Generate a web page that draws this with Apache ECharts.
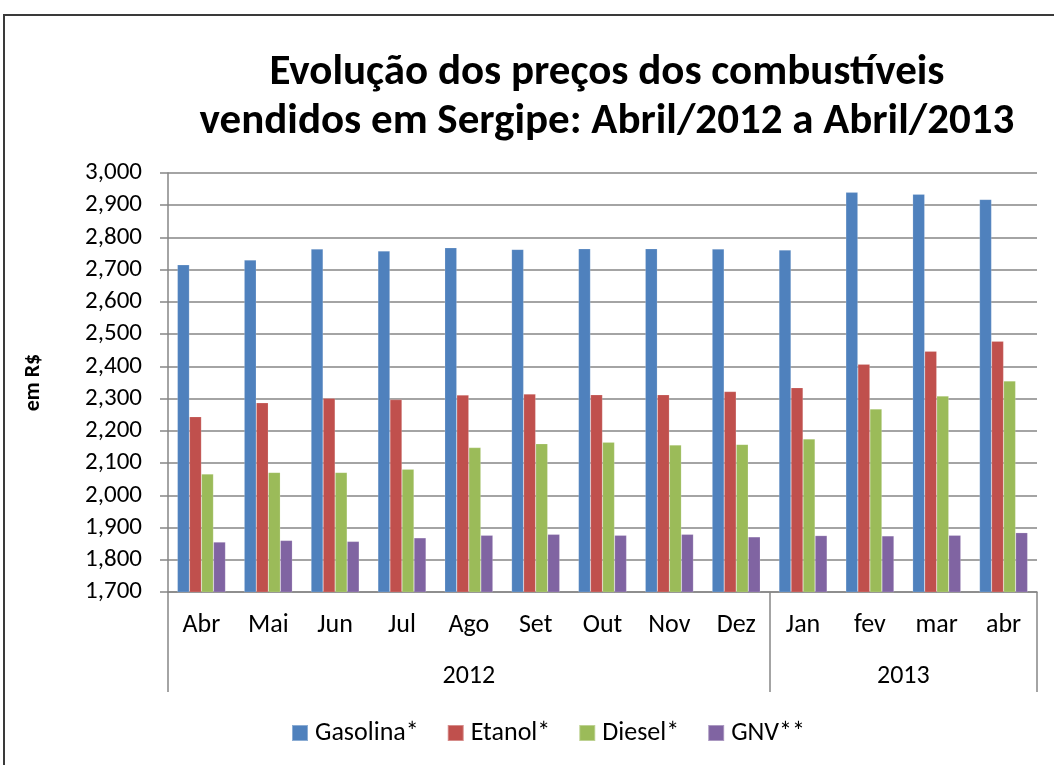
<!DOCTYPE html>
<html>
<head>
<meta charset="utf-8">
<script src="https://cdn.jsdelivr.net/npm/echarts@6/dist/echarts.min.js"></script>
<style>
  html, body { margin: 0; padding: 0; background: #fff; }
  #chart { width: 1054px; height: 765px; }
</style>
</head>
<body>
<div id="chart"></div>
<script>
const months = ['Abr', 'Mai', 'Jun', 'Jul', 'Ago', 'Set', 'Out', 'Nov', 'Dez', 'Jan', 'fev', 'mar', 'abr'];
const years = ['2012', '2013'];
const yearSpans = [0, 9, 13];   // category boundaries of each year
const gasolina = [2.715, 2.730, 2.764, 2.758, 2.768, 2.763, 2.765, 2.765, 2.764, 2.761, 2.940, 2.934, 2.918];
const etanol = [2.244, 2.287, 2.301, 2.297, 2.311, 2.314, 2.312, 2.312, 2.322, 2.334, 2.407, 2.447, 2.478];
const diesel = [2.066, 2.071, 2.071, 2.081, 2.148, 2.160, 2.165, 2.156, 2.158, 2.175, 2.268, 2.308, 2.355];
const gnv = [1.855, 1.860, 1.857, 1.868, 1.876, 1.879, 1.876, 1.879, 1.871, 1.875, 1.874, 1.876, 1.884];

const font = 'Carlito, Calibri, Lato, sans-serif';
const gray = '#868686';

// year label positions = middle of each span
const yearCenters = years.map((y, i) => (yearSpans[i] + yearSpans[i + 1]) / 2);

const myChart = echarts.init(document.getElementById('chart'));
const mkBar = (name, data, color) => ({
  name: name,
  type: 'bar',
  data: data,
  barGap: '0%',
  barCategoryGap: '28%',
  itemStyle: {color: color, borderColor: 'rgba(255,255,255,0.35)', borderWidth: 0.5}
});

myChart.setOption({
  animation: false,
  textStyle: {fontFamily: font},
  title: {
    text: 'Evolução dos preços dos combustíveis\nvendidos em Sergipe: Abril/2012 a Abril/2013',
    left: 602,
    top: 44,
    textAlign: 'center',
    textStyle: {fontSize: 43, fontWeight: 'bold', color: '#000', lineHeight: 49, fontFamily: font}
  },
  graphic: [{
    type: 'rect',
    shape: {x: 4, y: 15, width: 1100, height: 800},
    style: {fill: null, stroke: '#3a3a3a', lineWidth: 2},
    silent: true
  }],
  legend: {
    left: 286,
    top: 715,
    itemWidth: 16,
    itemHeight: 16,
    itemGap: 28,
    icon: 'rect',
    textStyle: {fontSize: 26, color: '#000', fontFamily: font, padding: [0, 0, 0, 2]}
  },
  grid: {left: 168, right: 17, top: 173, bottom: 173, containLabel: false},
  xAxis: [{
    type: 'category',
    data: months,
    axisLine: {lineStyle: {color: gray, width: 1.5}},
    axisTick: {length: 50, interval: 0, lineStyle: {color: gray, width: 1.5}},
    axisLabel: {fontSize: 26, color: '#000', margin: 20, interval: 0, fontFamily: font}
  }, {
    type: 'value',
    position: 'bottom',
    offset: 0,
    min: 0,
    max: months.length,
    axisLine: {show: false},
    splitLine: {show: false},
    axisTick: {show: true, length: 100, customValues: yearSpans, lineStyle: {color: gray, width: 1.5}},
    axisLabel: {
      fontSize: 26, color: '#000', margin: 71, fontFamily: font,
      customValues: yearCenters,
      formatter: (v) => years[yearCenters.indexOf(v)] || ''
    }
  }],
  yAxis: {
    type: 'value',
    min: 1.7,
    max: 3.0,
    interval: 0.1,
    name: 'em R$',
    nameLocation: 'middle',
    nameRotate: 90,
    nameGap: 124,
    nameTextStyle: {fontSize: 22, fontWeight: 'bold', color: '#000', fontFamily: font},
    axisLine: {show: true, lineStyle: {color: gray, width: 1.5}},
    axisTick: {show: true, length: 8, lineStyle: {color: gray, width: 1.5}},
    splitLine: {lineStyle: {color: gray, width: 1.5}},
    axisLabel: {
      fontSize: 25, color: '#000', margin: 26, fontFamily: font,
      formatter: (v) => v.toFixed(3).replace('.', ',')
    }
  },
  series: [
    mkBar('Gasolina*', gasolina, '#4F81BD'),
    mkBar('Etanol*', etanol, '#C0504D'),
    mkBar('Diesel*', diesel, '#9BBB59'),
    mkBar('GNV**', gnv, '#8064A2')
  ]
});
</script>
</body>
</html>
